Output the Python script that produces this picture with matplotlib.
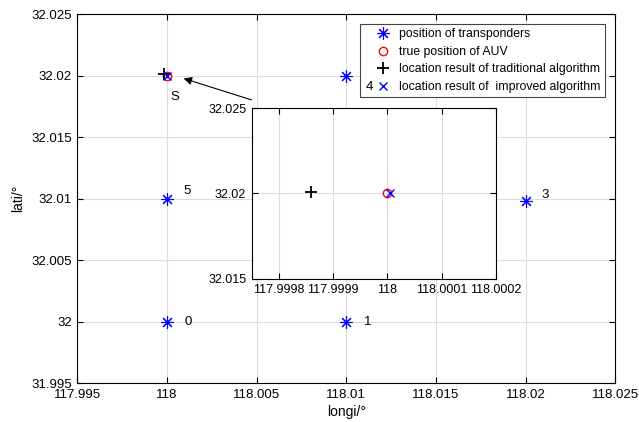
import matplotlib
matplotlib.use("Agg")
import matplotlib.pyplot as plt

plt.rcParams['font.family'] = ['Liberation Sans', 'DejaVu Sans']

# transponders
trans_x = [118.0, 118.01, 118.01, 118.02, 118.0]
trans_y = [32.0, 32.0, 32.02, 32.0098, 32.01]
trans_labels = ['0', '1', '4', '3', '5']
label_dx = [0.0010, 0.0010, 0.0011, 0.0009, 0.0009]
label_dy = [0.0, 0.0, -0.0009, 0.0005, 0.0006]

auv_x, auv_y = [118.0], [32.02]
trad_x, trad_y = [117.99986], [32.0201]
impr_x, impr_y = [118.000004], [32.02]

xticks = [117.995, 118, 118.005, 118.01, 118.015, 118.02, 118.025]
yticks = [31.995, 32, 32.005, 32.01, 32.015, 32.02, 32.025]
in_xticks = [117.9998, 117.9999, 118, 118.0001, 118.0002]
in_yticks = [32.015, 32.02, 32.025]

fig = plt.figure(figsize=(6.39, 4.22), dpi=100)
ax = fig.add_axes([0.121, 0.0924, 0.842, 0.874])

star = (8, 2, 0)
ax.plot(trans_x, trans_y, linestyle='none', marker=star, color='blue', ms=9, mew=0.8,
        label='position of transponders')
ax.plot(auv_x, auv_y, linestyle='none', marker='o', mfc='none', mec='red', ms=6, mew=1.0,
        label='true position of AUV')
ax.plot(trad_x, trad_y, linestyle='none', marker='+', color='black', ms=8, mew=1.3,
        label='location result of traditional algorithm')
ax.plot(impr_x, impr_y, linestyle='none', marker='x', color='blue', ms=6, mew=1.0,
        label='location result of  improved algorithm')

for x, y, t, dx, dy in zip(trans_x, trans_y, trans_labels, label_dx, label_dy):
    ax.text(x + dx, y + dy, t, fontsize=9.5, va='center', ha='left', zorder=10)
ax.text(118.00018, 32.0183, 'S', fontsize=9.5, va='center', ha='left')

ax.set_xlim(117.995, 118.025)
ax.set_ylim(31.995, 32.025)
ax.set_xticks(xticks)
ax.set_xticklabels([f'{v:g}' for v in xticks])
ax.set_yticks(yticks)
ax.set_yticklabels([f'{v:g}' for v in yticks])
ax.grid(True, color='#dcdcdc', linewidth=0.8)
ax.set_axisbelow(True)
ax.tick_params(direction='in', labelsize=9.5, length=4, top=True, right=True, pad=4)
ax.set_xlabel('longi/°', fontsize=10, labelpad=3)
ax.set_ylabel('lati/°', fontsize=10)
for s in ax.spines.values():
    s.set_linewidth(0.8)

leg = ax.legend(loc='upper right', bbox_to_anchor=(0.987, 0.983), fontsize=8.8,
                frameon=True, fancybox=False, edgecolor='#444444', framealpha=1,
                handletextpad=-0.2, borderpad=0.35, labelspacing=0.45,
                handlelength=3.0, borderaxespad=0.3)
leg.get_frame().set_linewidth(0.8)
leg.set_zorder(5)

ax.annotate('', xy=(118.00078, 32.01984), xytext=(118.00486, 32.01796),
            arrowprops=dict(arrowstyle='-|>', color='black', lw=0.8,
                            mutation_scale=12))

# inset
ins = fig.add_axes([0.394, 0.339, 0.382, 0.405])
ins.plot(trans_x, trans_y, linestyle='none', marker=star, color='blue', ms=9, mew=0.8)
ins.plot(auv_x, auv_y, linestyle='none', marker='o', mfc='none', mec='red', ms=6, mew=1.0)
ins.plot(trad_x, trad_y, linestyle='none', marker='+', color='black', ms=8, mew=1.3)
ins.plot(impr_x, impr_y, linestyle='none', marker='x', color='blue', ms=6, mew=1.0)
ins.set_xlim(117.99975, 118.0002)
ins.set_ylim(32.015, 32.025)
ins.set_xticks(in_xticks)
ins.set_xticklabels([f'{v:.4f}'.rstrip('0').rstrip('.') for v in in_xticks])
ins.set_yticks(in_yticks)
ins.set_yticklabels([f'{v:g}' for v in in_yticks])
ins.grid(True, color='#dcdcdc', linewidth=0.8)
ins.set_axisbelow(True)
ins.tick_params(direction='in', labelsize=9, length=4, top=True, right=True, pad=4)
for s in ins.spines.values():
    s.set_linewidth(0.8)

fig.savefig('out.png', dpi=100)
